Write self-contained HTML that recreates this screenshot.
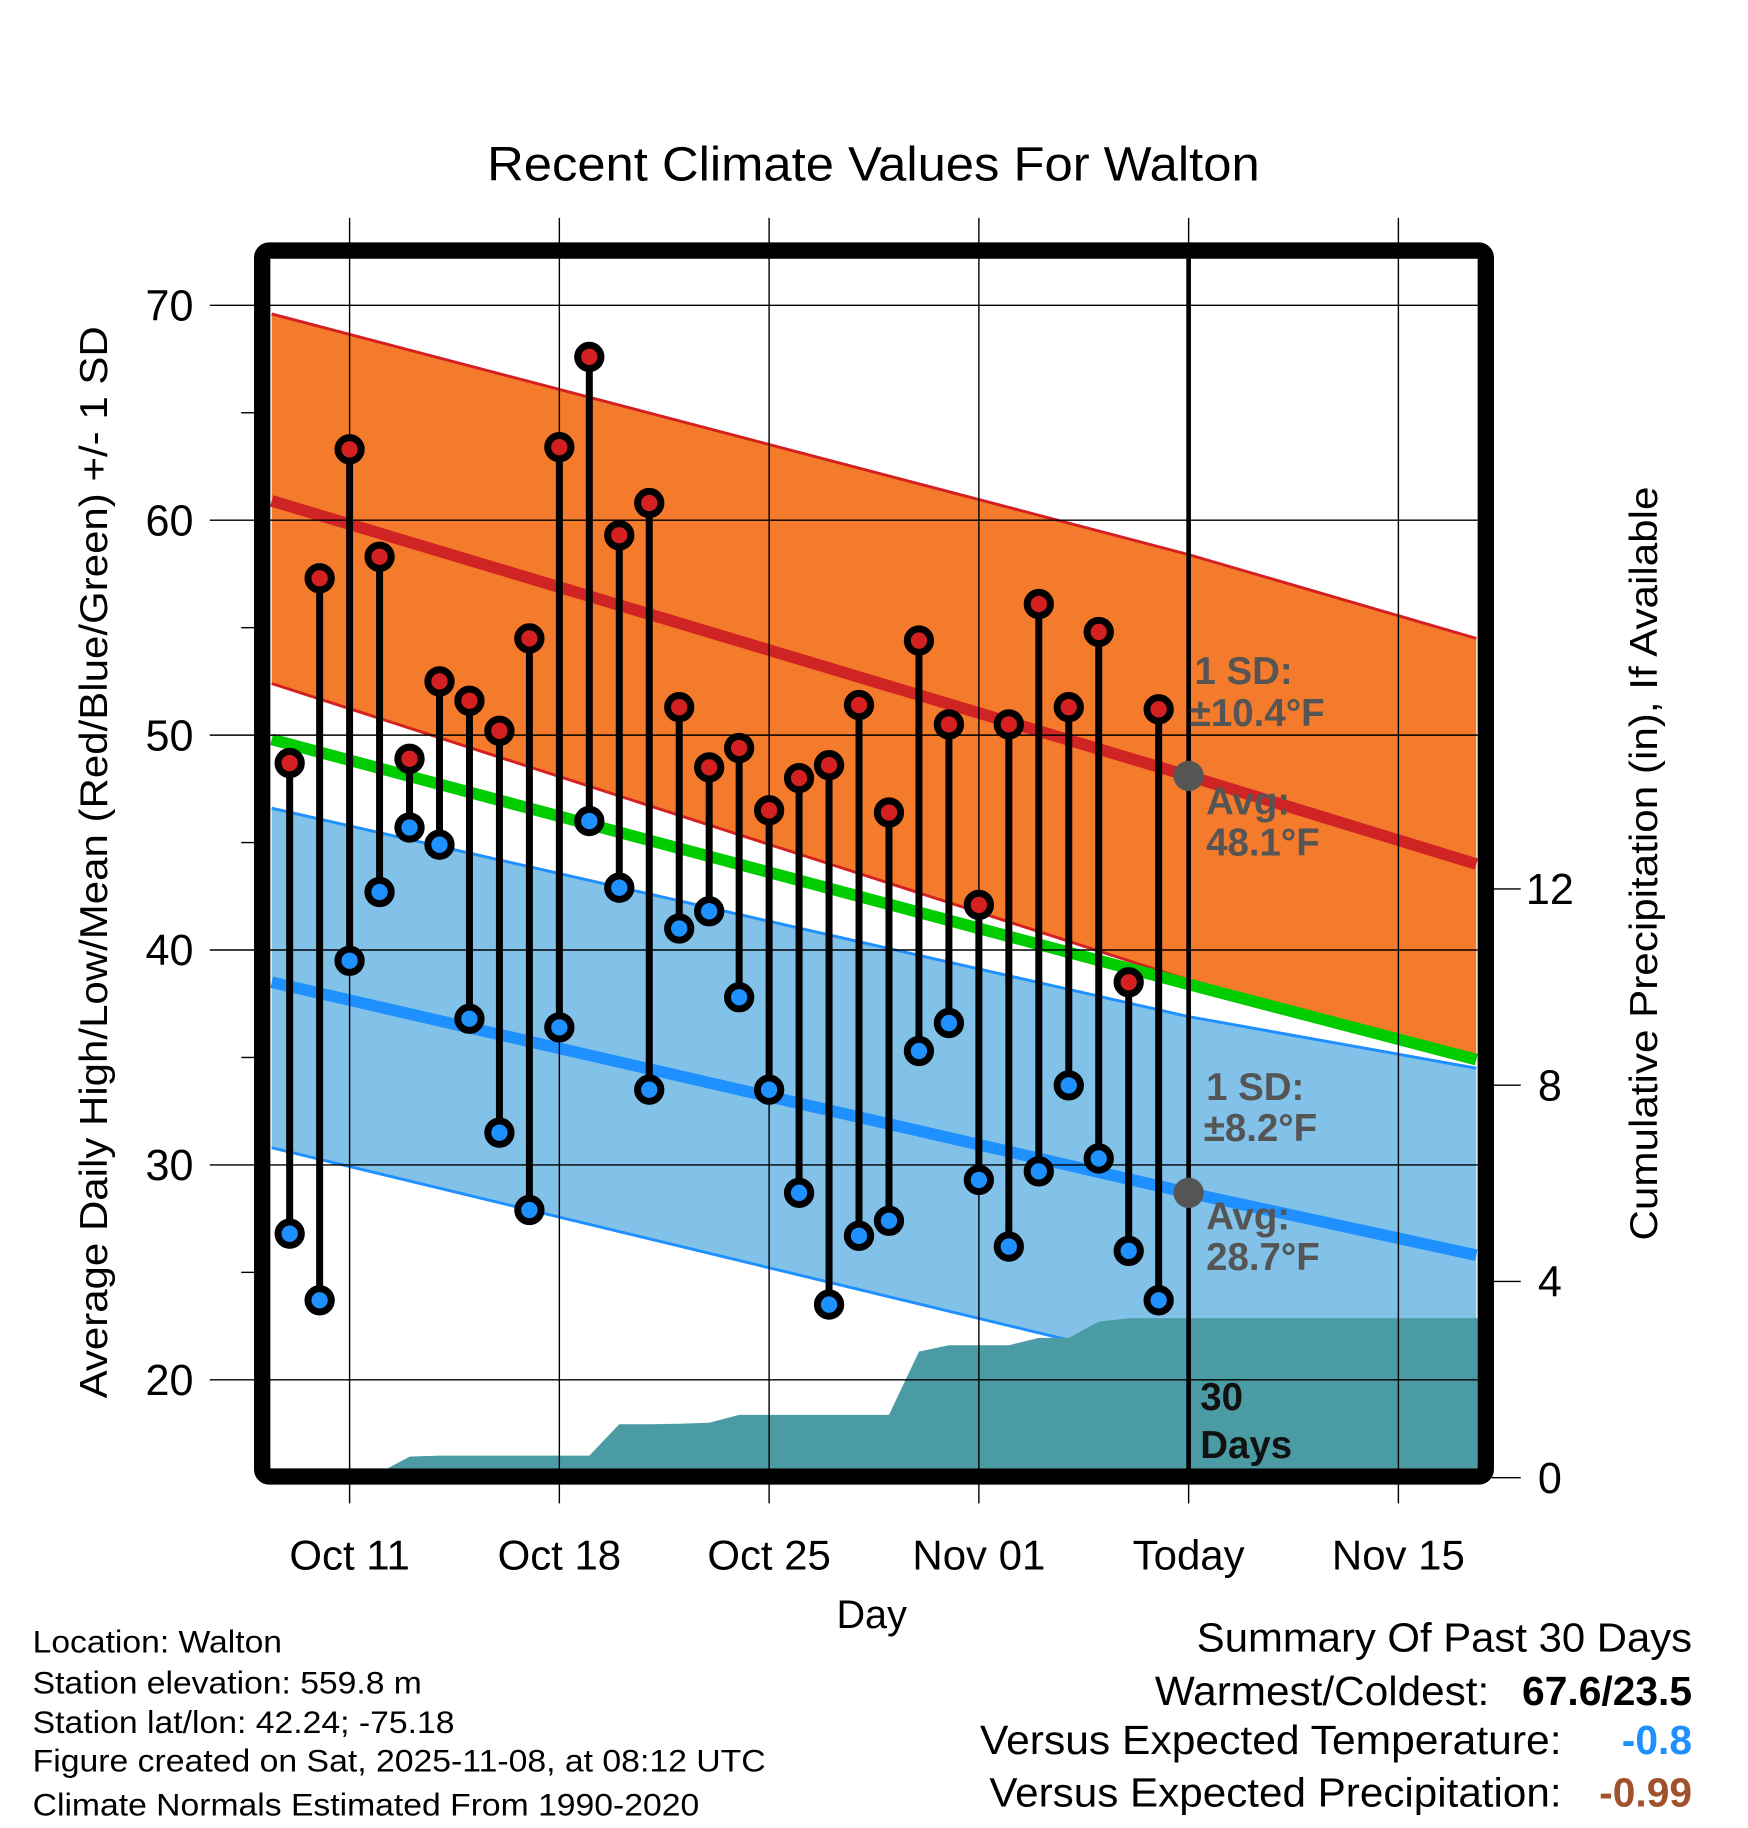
<!DOCTYPE html>
<html><head><meta charset="utf-8"><style>
html,body{margin:0;padding:0;background:#fff;}
svg{display:block;font-family:"Liberation Sans",Arial,sans-serif;}
</style></head><body>
<svg id="chart" width="1748" height="1828" viewBox="0 0 1500 1568.6" preserveAspectRatio="none" xmlns="http://www.w3.org/2000/svg">
<defs><clipPath id="plotClip"><rect x="232" y="222" width="1036" height="1038"/></clipPath></defs>
<text x="418" y="155" font-size="41" textLength="663" lengthAdjust="spacingAndGlyphs">Recent Climate Values For Walton</text>
<g id="gPlot" clip-path="url(#plotClip)"></g>
<g id="gAxes"></g>
<rect x="225" y="215" width="1050" height="1052" rx="6" fill="none" stroke="#000" stroke-width="14"/>
<text x="748" y="1397" font-size="34" text-anchor="middle">Day</text>
<text transform="translate(92,740) rotate(-90)" font-size="33" text-anchor="middle" textLength="920" lengthAdjust="spacingAndGlyphs">Average Daily High/Low/Mean (Red/Blue/Green) +/- 1 SD</text>
<text transform="translate(1422,741) rotate(-90)" font-size="33" text-anchor="middle" textLength="647" lengthAdjust="spacingAndGlyphs">Cumulative Precipitation (in), If Available</text>
<g font-size="27">
<text x="28" y="1418" textLength="214" lengthAdjust="spacingAndGlyphs">Location: Walton</text>
<text x="28" y="1453" textLength="334" lengthAdjust="spacingAndGlyphs">Station elevation: 559.8 m</text>
<text x="28" y="1487" textLength="362" lengthAdjust="spacingAndGlyphs">Station lat/lon: 42.24; -75.18</text>
<text x="28" y="1520" textLength="629" lengthAdjust="spacingAndGlyphs">Figure created on Sat, 2025-11-08, at 08:12 UTC</text>
<text x="28" y="1558" textLength="572" lengthAdjust="spacingAndGlyphs">Climate Normals Estimated From 1990-2020</text>
</g>
<g font-size="35">
<text x="1027" y="1417" textLength="425" lengthAdjust="spacingAndGlyphs">Summary Of Past 30 Days</text>
<text x="991" y="1463" textLength="287" lengthAdjust="spacingAndGlyphs">Warmest/Coldest:</text>
<text x="1452" y="1463" text-anchor="end" font-weight="bold">67.6/23.5</text>
<text x="841" y="1505" textLength="499" lengthAdjust="spacingAndGlyphs">Versus Expected Temperature:</text>
<text x="1452" y="1505" text-anchor="end" font-weight="bold" fill="#1e90ff">-0.8</text>
<text x="849" y="1550" textLength="491" lengthAdjust="spacingAndGlyphs">Versus Expected Precipitation:</text>
<text x="1452" y="1550" text-anchor="end" font-weight="bold" fill="#a0522d">-0.99</text>
</g>
</svg>
<script>
// days relative to Oct 11
const obsDays = [-2,-1,0,1,2,3,4,5,6,7,8,9,10,11,12,13,14,15,16,17,18,19,20,21,22,23,24,25,26,27];
const highs = [48.7,57.3,63.3,58.3,48.9,52.5,51.6,50.2,54.5,63.4,67.6,59.3,60.8,51.3,48.5,49.4,46.5,48.0,48.6,51.4,46.4,54.4,50.5,42.1,50.5,56.1,51.3,54.8,38.5,51.2];
const lows = [26.8,23.7,39.5,42.7,45.7,44.9,36.8,31.5,27.9,36.4,46.0,42.9,33.5,41.0,41.8,37.8,33.5,28.7,23.5,26.7,27.4,35.3,36.6,29.3,26.2,29.7,33.7,30.3,26.0,23.7];
const precip = [0.1,0.1,0.1,0.1,0.43,0.45,0.45,0.45,0.45,0.45,0.45,1.09,1.09,1.1,1.12,1.28,1.28,1.28,1.28,1.28,1.28,2.57,2.7,2.7,2.7,2.85,2.85,3.18,3.25,3.25];
const normDays = [-2.6,28,37.6];
const highUpper = [69.6,58.4,54.5];
const highAvg = [60.9,48.1,44.0];
const highLower = [52.4,38.6,35.1];
const lowUpper = [46.6,36.9,34.5];
const lowAvg = [38.5,28.7,25.8];
const lowLower = [30.8,20.5,17.3];
const meanLine = [49.8,38.4,34.9];
const xTickDays = [0,7,14,21,28,35];
const xTickLabels = ["Oct 11","Oct 18","Oct 25","Nov 01","Today","Nov 15"];
const yTicks = [20,30,40,50,60,70];
const pTicks = [0,4,8,12];

const NS="http://www.w3.org/2000/svg";
const xOf = d => 300 + 25.714*d;
const yOf = t => 262 + (70-t)*18.44;
const yP = p => 1268 - p*42.1;
const gP=document.getElementById('gPlot'), gA=document.getElementById('gAxes');
function mk(tag, attrs, parent){const e=document.createElementNS(NS,tag);for(const k in attrs)e.setAttribute(k,attrs[k]);parent.appendChild(e);return e;}
function band(up,lo){let pts=normDays.map((d,i)=>xOf(d)+','+yOf(up[i]));pts=pts.concat(normDays.slice().reverse().map((d,j)=>{const i=normDays.length-1-j;return xOf(d)+','+yOf(lo[i]);}));return pts.join(' ');}
function line(arr){return normDays.map((d,i)=>xOf(d)+','+yOf(arr[i])).join(' ');}

let e;
e=mk('polygon',{points:band(highUpper,highLower),fill:'#f47a2c'},gP);


[highUpper,highLower].forEach(a=>{e=mk('polyline',{points:line(a),fill:'none',stroke:'#d42020','stroke-width':2.5},gP);

});
e=mk('polygon',{points:band(lowUpper,lowLower),fill:'#82c1e8'},gP);


[lowUpper,lowLower].forEach(a=>{e=mk('polyline',{points:line(a),fill:'none',stroke:'#1e90ff','stroke-width':2.5},gP);

});
// precip area
let pp=['230,'+yP(0),'230,'+yP(precip[0])];
obsDays.forEach((d,i)=>pp.push(xOf(d)+','+yP(precip[i])));
pp.push('1270,'+yP(precip[precip.length-1]));pp.push('1270,'+yP(0));
e=mk('polygon',{points:pp.join(' '),fill:'#4a9ba3'},gP);


e=mk('polyline',{points:line(meanLine),fill:'none',stroke:'#00cc00','stroke-width':10},gP);


e=mk('polyline',{points:line(highAvg),fill:'none',stroke:'#d02424','stroke-width':10},gP);


e=mk('polyline',{points:line(lowAvg),fill:'none',stroke:'#1e90ff','stroke-width':10},gP);


// grid
xTickDays.forEach((d,i)=>{
 e=mk('line',{x1:xOf(d),x2:xOf(d),y1:187,y2:1290,stroke:'#000','stroke-width':1.2},gA);
 
 
 e=mk('text',{x:xOf(d),y:1347,'font-size':36,'text-anchor':'middle'},gA);e.textContent=xTickLabels[i];
 
 
});
yTicks.forEach(t=>{
 e=mk('line',{x1:180,x2:1268,y1:yOf(t),y2:yOf(t),stroke:'#000','stroke-width':1.2},gA);
 
 
 e=mk('text',{x:166,y:yOf(t)+13,'font-size':37,'text-anchor':'end'},gA);e.textContent=t;
 
 
 if(t<70){e=mk('line',{x1:207,x2:220,y1:yOf(t+5),y2:yOf(t+5),stroke:'#000','stroke-width':1.2},gA);
 
 }
});
pTicks.forEach(p=>{
 e=mk('line',{x1:1280,x2:1305,y1:yP(p),y2:yP(p),stroke:'#000','stroke-width':1.2},gA);
 
 
 e=mk('text',{x:1330,y:yP(p)+13,'font-size':37,'text-anchor':'middle'},gA);e.textContent=p;
 
 
});
// stems and dots
obsDays.forEach((d,i)=>{
 const x=xOf(d);
 e=mk('line',{x1:x,x2:x,y1:yOf(highs[i]),y2:yOf(lows[i]),stroke:'#000','stroke-width':6},gA);
 
 
 e=mk('circle',{cx:x,cy:yOf(highs[i]),r:10,fill:'#d42020',stroke:'#000','stroke-width':6},gA);
 
 
 e=mk('circle',{cx:x,cy:yOf(lows[i]),r:10,fill:'#1e90ff',stroke:'#000','stroke-width':6},gA);
 
 
});
// today line
e=mk('line',{x1:xOf(28),x2:xOf(28),y1:222,y2:1262,stroke:'#000','stroke-width':4},gA);


e=mk('circle',{cx:xOf(28),cy:yOf(highAvg[1]),r:13,fill:'#555'},gA);


e=mk('circle',{cx:xOf(28),cy:yOf(lowAvg[1]),r:13,fill:'#555'},gA);


const ann=[["1 SD:",1025,587,'#555'],["\u00b110.4\u00b0F",1021,623,'#555'],["Avg:",1035,699,'#555'],["48.1\u00b0F",1035,734,'#555'],
["1 SD:",1035,944,'#555'],["\u00b18.2\u00b0F",1033,979,'#555'],["Avg:",1035,1055,'#555'],["28.7\u00b0F",1035,1090,'#555'],
["30",1030,1210,'#111'],["Days",1030,1251,'#111']];
ann.forEach(a=>{e=mk('text',{x:a[1],y:a[2],'font-size':33,'font-weight':'bold',fill:a[3]},gA);e.textContent=a[0];

});
</script>
</body></html>
